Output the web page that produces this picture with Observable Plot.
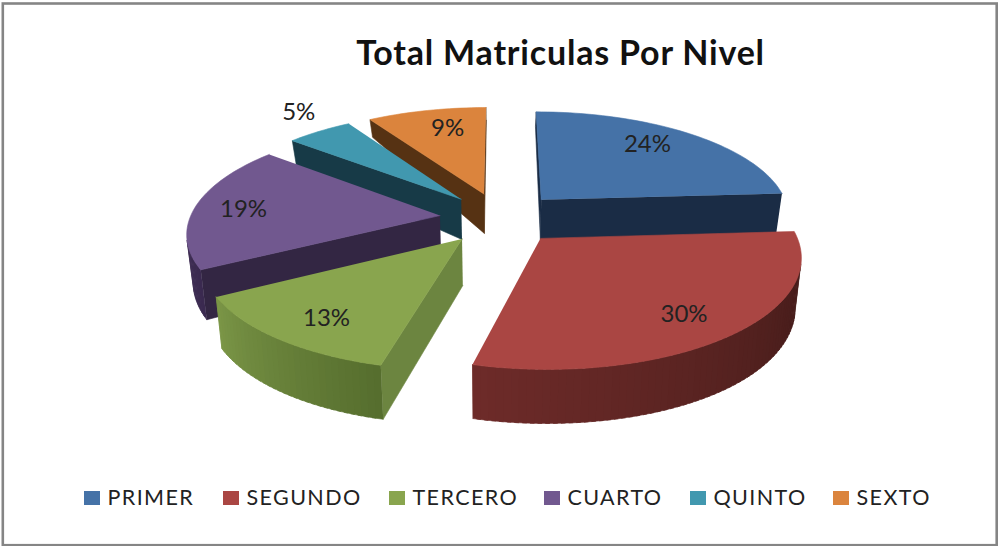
<!DOCTYPE html>
<html>
<head>
<meta charset="utf-8">
<style>
html,body{margin:0;padding:0;background:#fff}
svg{display:block}
.legend-text text{letter-spacing:1.4px}
.title-text text{letter-spacing:.8px}
</style>
<script src="https://cdn.jsdelivr.net/npm/d3@7"></script>
<script src="https://cdn.jsdelivr.net/npm/@observablehq/plot@0.6"></script>
</head>
<body>
<div id="chart"></div>
<script>
const titleText = "Total Matriculas Por Nivel";
const categories = ["PRIMER", "SEGUNDO", "TERCERO", "CUARTO", "QUINTO", "SEXTO"];
const percents = [24, 30, 13, 19, 5, 9];
const topColors = ["#4572A7", "#AA4643", "#89A54E", "#71588F", "#4198AF", "#DB843D"];
const startFaceColors = ["#1a2c45", "#3e1917", "#6c8540", "#332643", "#173a47", "#563213"];
const endFaceColors = ["#1a2c45", "#6e2b29", "#7b9647", "#4d3b63", "#173a47", "#563213"];
const rimStartColors = ["#1a2c45", "#3e1917", "#566e2e", "#3b2a50", "#173a47", "#563213"];
const rimEndColors = ["#1a2c45", "#6e2b29", "#7b9647", "#4d3b63", "#173a47", "#563213"];
const paintOrder = [5, 4, 0, 3, 2, 1];
const legendSwatchLeft = [84, 223, 389, 544, 690, 833];
const labelRadius = [0.77, 0.79, 0.79, 0.80, 1.26, 0.76];
const labelTurn = [-4, 1, -2, -1, 3, 3];

// 3D pie view
const view = {cx: 500, cy: 217.5, rx: 250, ry: 105.5, persp: 0.145, explode: 0.244, taper: 0.02};
const rad = d => d * Math.PI / 180;
const dirOf = a => [Math.sin(rad(a)), -Math.cos(rad(a))];
const depthAt = v => 18 + 25.3 * (v + 1.07) - 6.74 * (v + 1.07) * (v + 0.2);
function project(u, v, bottom) {
  const s = 1 / (1 - view.persp * v);
  const x = view.cx + view.rx * u * s;
  const y = view.cy + view.ry * v * s;
  if (!bottom) return [x, y];
  return [x + (view.cx - x) * view.taper, y + depthAt(v)];
}
const total = d3.sum(percents);
let run = 0;
const slices = percents.map((p, i) => {
  const a0 = run / total * 360;
  run += p;
  const a1 = run / total * 360;
  const mid = (a0 + a1) / 2;
  const [ex, ey] = dirOf(mid).map(d => d * view.explode);
  return {i, p, a0, a1, mid, ex, ey};
});
const faces = [];
let fid = 0;
function addFace(points, color) {
  const id = fid++;
  for (const [x, y] of points) faces.push({id, x, y, color});
}
// A wall is kept only when it faces the viewer.
function addWall(p, q, color) {
  const [pu, pv] = p, [qu, qv] = q;
  const pts = [project(pu, pv), project(qu, qv), project(qu, qv, true), project(pu, pv, true)];
  if (d3.polygonArea(pts) > 0) addFace(pts, color);
}
for (const k of paintOrder) {
  const sl = slices[k];
  const apex = [sl.ex, sl.ey];
  const rimAt = a => { const [u, v] = dirOf(a); return [sl.ex + u, sl.ey + v]; };
  addWall(apex, rimAt(sl.a0), startFaceColors[k]);
  addWall(rimAt(sl.a1), apex, endFaceColors[k]);
  const angles = d3.range(sl.a0, sl.a1, 1.5).concat(sl.a1);
  const shade = d3.interpolateRgb(rimStartColors[k], rimEndColors[k]);
  for (let j = 0; j < angles.length - 1; j++) {
    // each strip runs a little under the next one so no seam shows
    addWall(rimAt(angles[j]), rimAt(Math.min(sl.a1, angles[j + 1] + 0.8)), shade(j / (angles.length - 2 || 1)));
  }
  addFace([project(...apex), ...angles.map(a => project(...rimAt(a)))], topColors[k]);
}
const labels = slices.map(sl => {
  const [u, v] = dirOf(sl.mid + labelTurn[sl.i]);
  const r = labelRadius[sl.i];
  const [x, y] = project(sl.ex + u * r, sl.ey + v * r);
  return {x, y, text: sl.p + "%"};
});
const legend = categories.map((name, i) => ({name, left: legendSwatchLeft[i], color: topColors[i]}));

const plot = Plot.plot({
  width: 998, height: 546,
  marginTop: 0, marginRight: 0, marginBottom: 0, marginLeft: 0,
  x: {domain: [0, 998], range: [0, 998], axis: null},
  y: {domain: [0, 546], range: [0, 546], axis: null},
  color: {type: "identity"},
  style: {background: "#fff"},
  marks: [
    Plot.frame({stroke: "#858585", strokeWidth: 2.6, insetTop: 3, insetLeft: 2.3, insetRight: 1.8, insetBottom: 1.3}),
    Plot.line(faces, {x: "x", y: "y", z: "id", fill: "color", stroke: "color", strokeWidth: 0.6, curve: "linear"}),
    Plot.text([titleText], {x: () => 560, y: () => 54, text: d => d, fontFamily: "Lato", fontWeight: 700, fontSize: 34, fill: "#111", textAnchor: "middle", className: "title-text"}),
    Plot.text(labels, {x: "x", y: "y", text: "text", fontFamily: "Lato", fontSize: 24, fill: "#222", textAnchor: "middle"}),
    Plot.rect(legend, {x1: "left", x2: d => d.left + 16, y1: () => 491, y2: () => 505, fill: "color"}),
    Plot.text(legend, {x: d => d.left + 23, y: () => 498, text: "name", fontFamily: "Lato", fontSize: 21.5, fill: "#222", textAnchor: "start", className: "legend-text"})
  ]
});
document.getElementById("chart").appendChild(plot);
</script>
</body>
</html>
